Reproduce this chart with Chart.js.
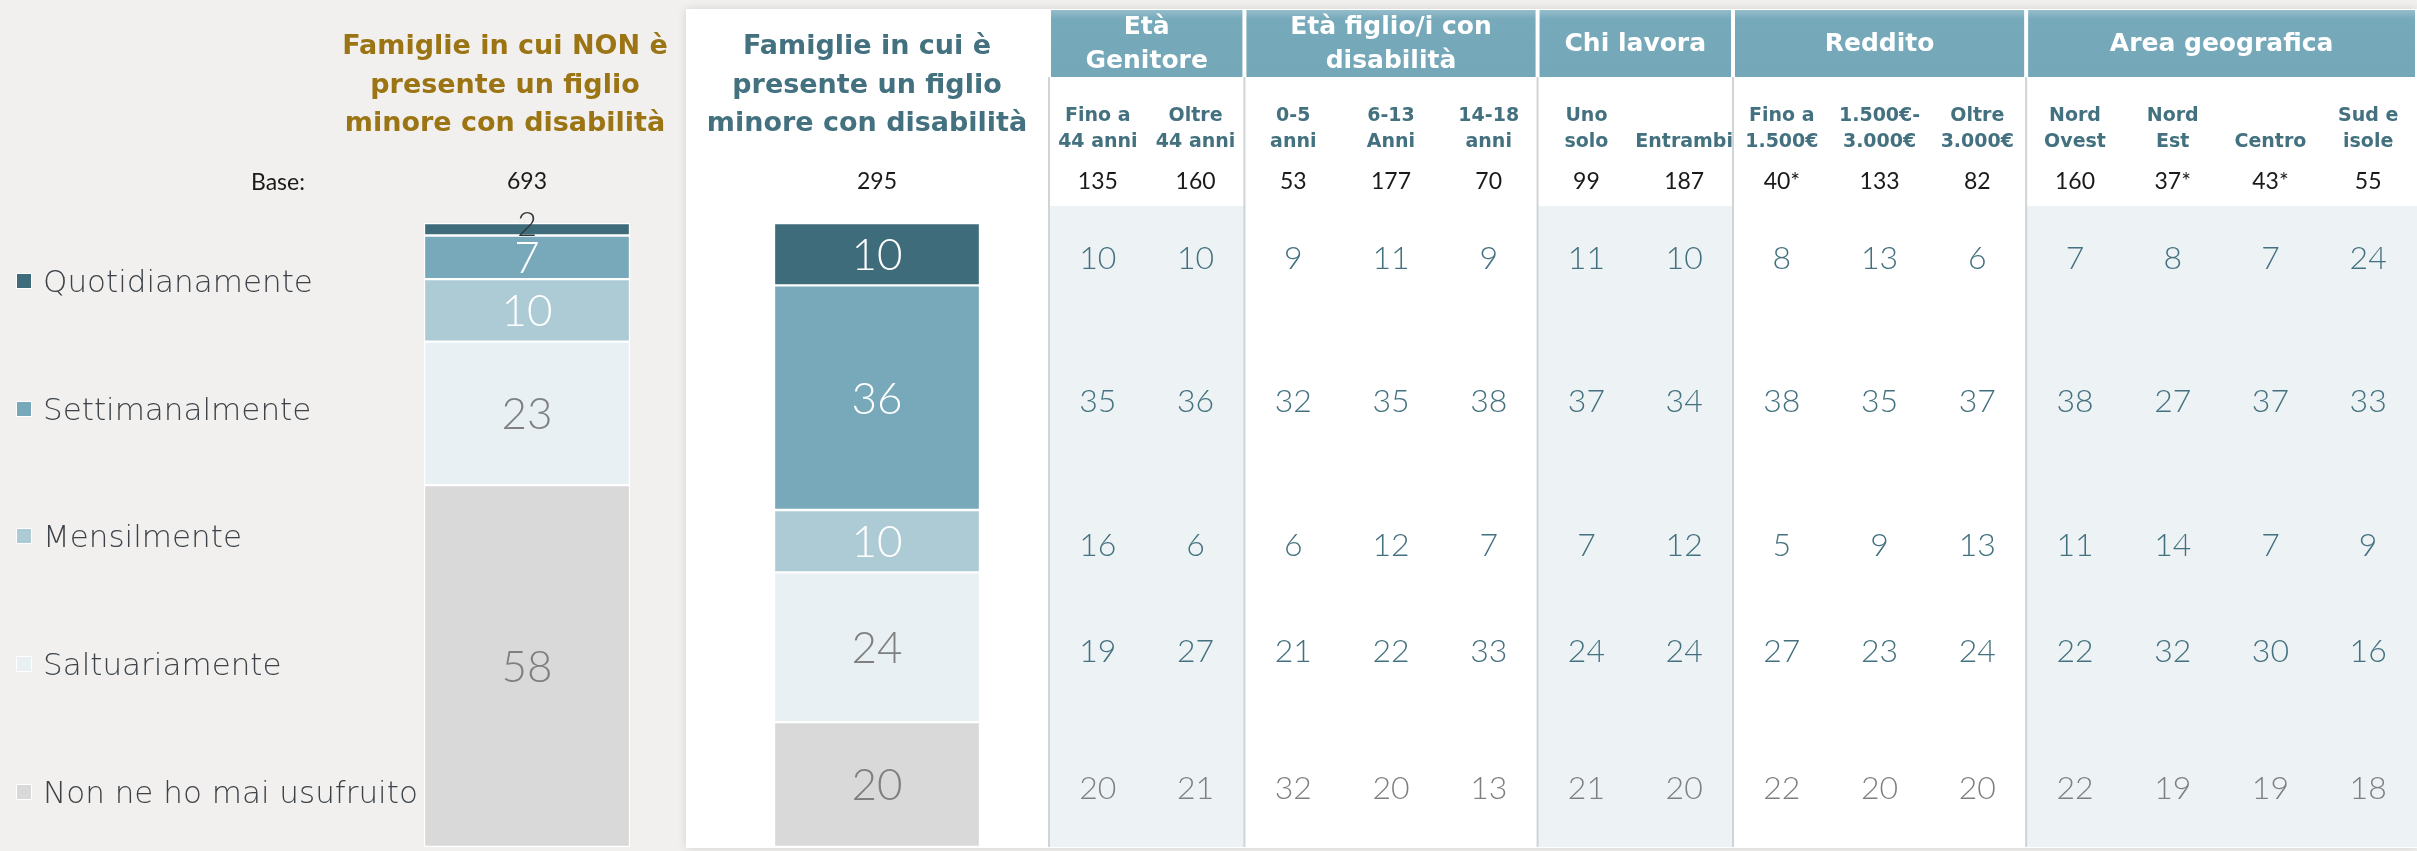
<!DOCTYPE html>
<html lang="it">
<head>
<meta charset="utf-8">
<title>Frequenza di utilizzo – famiglie con e senza figli minori con disabilità</title>
<script src="https://cdn.jsdelivr.net/npm/chart.js@4.4.1/dist/chart.umd.min.js"></script>
<style>
  html, body { margin: 0; padding: 0; }
  body {
    width: 2417px; height: 851px; overflow: hidden; position: relative;
    background: #f1f0ee; font-family: 'DejaVu Sans', sans-serif;
  }
  #panel {
    position: absolute; left: 686px; top: 9px; right: 0; bottom: 3px;
    background: #fff; box-shadow: 0 0 9px rgba(0, 0, 0, 0.12);
  }
  canvas { position: absolute; left: 0; top: 0; }
  .title {
    position: absolute; top: 26px; width: 440px; text-align: center;
    font-weight: bold; font-size: 27px; line-height: 38.5px;
  }
  #titleNon { left: 285px; color: #9b7413; }
  #titleCon { left: 647px; color: #43717f; }
  #baseLabel {
    position: absolute; left: 228px; width: 100px; top: 167px; text-align: center;
    font: 23px/28px Lato, sans-serif; color: #1a1a1a;
  }
  #legend { position: absolute; left: 16px; top: 217px; }
  .item {
    height: 127.7px; display: flex; align-items: center;
    font-size: 31px; font-weight: 300; color: #3c4248; white-space: nowrap;
  }
  .sw { width: 14px; height: 14px; border: 1px solid #fff; margin-right: 11px; }
</style>
</head>
<body>
<div id="panel"></div>
<canvas id="bars" width="2417" height="851"></canvas>
<canvas id="table" width="2417" height="851"></canvas>
<div class="title" id="titleNon">Famiglie in cui NON è<br>presente un figlio<br>minore con disabilità</div>
<div class="title" id="titleCon">Famiglie in cui è<br>presente un figlio<br>minore con disabilità</div>
<div id="baseLabel">Base:</div>
<div id="legend"></div>
<script>
// ─────────────────────────────────────────
// DATA
// ─────────────────────────────────────────
const SERIES = ['Quotidianamente', 'Settimanalmente', 'Mensilmente', 'Saltuariamente', 'Non ne ho mai usufruito'];
const SERIES_COLORS = ['#3e6c7b', '#78a9ba', '#adcbd5', '#e8f0f3', '#d9d9d9'];
const LABEL_COLORS = ['#ffffff', '#ffffff', '#ffffff', '#7f7f7f', '#7f7f7f'];
const VALUE_COLORS = ['#43717f', '#43717f', '#43717f', '#43717f', '#7f7f7f'];

const GROUPS = ['Famiglie senza figlio minore con disabilità', 'Famiglie con figlio minore con disabilità'];
const GROUP_BASE = [693, 295];
const NON_DISAB = [2, 7, 10, 23, 58];
const CON_DISAB = [10, 36, 10, 24, 20];

const HEADER_GROUPS = [['Età', 'Genitore'], ['Età figlio/i con', 'disabilità'], ['Chi lavora'], ['Reddito'], ['Area geografica']];
const HEADER_SPANS = [2, 3, 2, 3, 4];
const COLUMNS = [
  ['Fino a', '44 anni'], ['Oltre', '44 anni'],
  ['0-5', 'anni'], ['6-13', 'Anni'], ['14-18', 'anni'],
  ['Uno', 'solo'], ['', 'Entrambi'],
  ['Fino a', '1.500€'], ['1.500€-', '3.000€'], ['Oltre', '3.000€'],
  ['Nord', 'Ovest'], ['Nord', 'Est'], ['', 'Centro'], ['Sud e', 'isole'],
];
const COLUMN_BASE = [135, 160, 53, 177, 70, 99, 187, 40, 133, 82, 160, 37, 43, 55];

const ROW_QUOTIDIANAMENTE = [10, 10, 9, 11, 9, 11, 10, 8, 13, 6, 7, 8, 7, 24];
const ROW_SETTIMANALMENTE = [35, 36, 32, 35, 38, 37, 34, 38, 35, 37, 38, 27, 37, 33];
const ROW_MENSILMENTE = [16, 6, 6, 12, 7, 7, 12, 5, 9, 13, 11, 14, 7, 9];
const ROW_SALTUARIAMENTE = [19, 27, 21, 22, 33, 24, 24, 27, 23, 24, 22, 32, 30, 16];
const ROW_MAI = [20, 21, 32, 20, 13, 21, 20, 22, 20, 20, 22, 19, 19, 18];
const TABLE_ROWS = [ROW_QUOTIDIANAMENTE, ROW_SETTIMANALMENTE, ROW_MENSILMENTE, ROW_SALTUARIAMENTE, ROW_MAI];

const COLUMN_KEYS = COLUMNS.map(c => c.filter(Boolean).join(' '));
const SMALL_BASE = 50; // basi sotto 50 casi -> asterisco

// table rows sit on the middle of each segment of the main bar
let acc = 0;
const ROW_CENTERS = CON_DISAB.map(v => { const c = acc + v / 2; acc += v; return c; });

// ─────────────────────────────────────────
// LEGEND (html)
// ─────────────────────────────────────────
const legendEl = document.getElementById('legend');
SERIES.forEach((name, i) => {
  const item = document.createElement('div');
  item.className = 'item';
  const sw = document.createElement('span');
  sw.className = 'sw';
  sw.style.background = SERIES_COLORS[i];
  item.appendChild(sw);
  item.appendChild(document.createTextNode(name));
  legendEl.appendChild(item);
});

// ─────────────────────────────────────────
// PLUGINS
// ─────────────────────────────────────────
const barLabels = {
  id: 'barLabels',
  afterDatasetsDraw(chart) {
    const { ctx } = chart;
    ctx.save();
    ctx.textAlign = 'center';
    ctx.textBaseline = 'alphabetic';
    chart.data.datasets.forEach((ds, s) => {
      chart.getDatasetMeta(s).data.forEach((bar, i) => {
        const h = Math.abs(bar.base - bar.y);
        const { x, y } = bar.getCenterPoint();
        const small = h < 24;
        const size = small ? 34 : 44;
        ctx.font = `300 ${size}px Lato, sans-serif`;
        ctx.fillStyle = small ? '#2f383e' : LABEL_COLORS[s];
        ctx.fillText(String(ds.data[i]), x, y + size * 0.36 - (small ? 5 : 0));
      });
    });
    ctx.font = '23px Lato, sans-serif';
    ctx.fillStyle = '#1a1a1a';
    chart.getDatasetMeta(0).data.forEach((bar, i) => {
      ctx.fillText(String(GROUP_BASE[i]), bar.x, 189);
    });
    ctx.restore();
  },
};

const tableFrame = {
  id: 'tableFrame',
  beforeDatasetsDraw(chart) {
    const { ctx, chartArea, scales: { x } } = chart;
    const colW = (chartArea.right - chartArea.left) / COLUMNS.length;
    ctx.save();
    let start = 0;
    HEADER_GROUPS.forEach((lines, g) => {
      const span = HEADER_SPANS[g];
      const left = x.getPixelForValue(start) - colW / 2;
      const right = x.getPixelForValue(start + span - 1) + colW / 2;
      if (g % 2 === 0) {
        ctx.fillStyle = '#edf2f5';
        ctx.fillRect(left, 206, right - left, chartArea.bottom - 206);
      }
      ctx.fillStyle = '#cfd4d7';
      ctx.fillRect(left - 1, 77, 2, chartArea.bottom - 77);

      const grad = ctx.createLinearGradient(0, 10, 0, 77);
      grad.addColorStop(0, '#95bdcb');
      grad.addColorStop(0.14, '#76a9ba');
      grad.addColorStop(1, '#74a7b8');
      ctx.fillStyle = grad;
      ctx.fillRect(left + 2, 10, right - left - 4, 67);

      ctx.fillStyle = '#ffffff';
      ctx.font = 'bold 25px "DejaVu Sans", sans-serif';
      ctx.textAlign = 'center';
      ctx.textBaseline = 'middle';
      const cx = (left + right) / 2;
      lines.forEach((t, i) => ctx.fillText(t, cx, 44 + (i - (lines.length - 1) / 2) * 34));
      start += span;
    });

    ctx.textBaseline = 'alphabetic';
    COLUMNS.forEach((lines, c) => {
      const cx = x.getPixelForValue(c);
      ctx.fillStyle = '#43717f';
      ctx.font = 'bold 19px "DejaVu Sans", sans-serif';
      ctx.fillText(lines[0], cx, 121);
      ctx.fillText(lines[1], cx, 147);
      ctx.fillStyle = '#1a1a1a';
      ctx.font = '23px Lato, sans-serif';
      const n = COLUMN_BASE[c];
      ctx.fillText(n + (n < SMALL_BASE ? '*' : ''), cx, 189);
    });
    ctx.restore();
  },
  afterDatasetsDraw(chart) {
    const { ctx } = chart;
    ctx.save();
    ctx.textAlign = 'center';
    ctx.textBaseline = 'alphabetic';
    ctx.font = '300 32px Lato, sans-serif';
    chart.data.datasets.forEach((ds, r) => {
      ctx.fillStyle = VALUE_COLORS[r];
      chart.getDatasetMeta(r).data.forEach((pt, c) => {
        ctx.fillText(String(ds.data[c].v), pt.x, pt.y + 32 * 0.36 + 3);
      });
    });
    ctx.restore();
  },
};

// ─────────────────────────────────────────
// CHARTS
// ─────────────────────────────────────────
Chart.defaults.font.family = "Lato, 'DejaVu Sans', sans-serif";

new Chart(document.getElementById('bars'), {
  type: 'bar',
  data: {
    labels: GROUPS,
    datasets: SERIES.map((name, s) => ({
      label: name,
      data: [NON_DISAB[s], CON_DISAB[s]],
      backgroundColor: SERIES_COLORS[s],
      borderColor: '#ffffff',
      borderWidth: 1.5,
      borderSkipped: false,
      barThickness: 206,
    })),
  },
  options: {
    responsive: false,
    animation: false,
    devicePixelRatio: 1,
    layout: { padding: { left: 352, right: 1365, top: 223, bottom: 4 } },
    plugins: { legend: { display: false }, tooltip: { enabled: false } },
    scales: {
      x: { stacked: true, display: false },
      y: { stacked: true, display: false, min: 0, max: 100, reverse: true },
    },
  },
  plugins: [barLabels],
});

new Chart(document.getElementById('table'), {
  type: 'line',
  data: {
    labels: COLUMN_KEYS,
    datasets: TABLE_ROWS.map((row, r) => ({
      label: SERIES[r],
      data: row.map((v, c) => ({ x: COLUMN_KEYS[c], y: ROW_CENTERS[r], v })),
      showLine: false,
      pointRadius: 0,
      pointHoverRadius: 0,
    })),
  },
  options: {
    responsive: false,
    animation: false,
    devicePixelRatio: 1,
    layout: { padding: { left: 1049, right: 0, top: 223, bottom: 4 } },
    plugins: { legend: { display: false }, tooltip: { enabled: false } },
    scales: {
      x: { type: 'category', offset: true, display: false },
      y: { display: false, min: 0, max: 100, reverse: true },
    },
  },
  plugins: [tableFrame],
});
</script>
</body>
</html>
